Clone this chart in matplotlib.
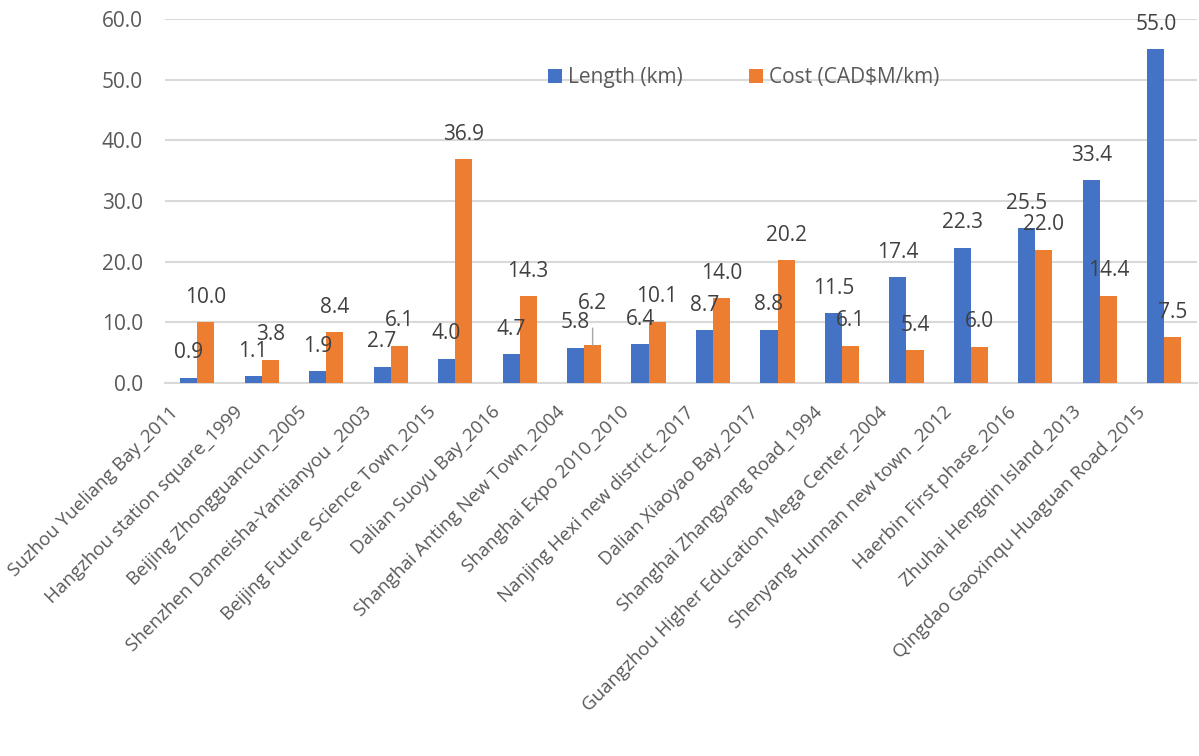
import numpy as np
import matplotlib.pyplot as plt
from matplotlib.transforms import ScaledTranslation

plt.rcParams['font.family'] = ['Open Sans', 'DejaVu Sans']

projects = [
    "Suzhou Yueliang Bay_2011",
    "Hangzhou station square_1999",
    "Beijing Zhongguancun_2005",
    "Shenzhen Dameisha-Yantianyou _2003",
    "Beijing Future Science Town_2015",
    "Dalian Suoyu Bay_2016",
    "Shanghai Anting New Town_2004",
    "Shanghai Expo 2010_2010",
    "Nanjing Hexi new district_2017",
    "Dalian Xiaoyao Bay_2017",
    "Shanghai Zhangyang Road_1994",
    "Guangzhou Higher Education Mega Center_2004",
    "Shenyang Hunnan new town _2012",
    "Haerbin First phase_2016",
    "Zhuhai Hengqin Island_2013",
    "Qingdao Gaoxinqu Huaguan Road_2015",
]
length_km = [0.9, 1.1, 1.9, 2.7, 4.0, 4.7, 5.8, 6.4, 8.7, 8.8, 11.5, 17.4, 22.3, 25.5, 33.4, 55.0]
cost_per_km = [10.0, 3.8, 8.4, 6.1, 36.9, 14.3, 6.2, 10.1, 14.0, 20.2, 6.1, 5.4, 6.0, 22.0, 14.4, 7.5]

blue = '#4472C4'
orange = '#ED7D31'
label_color = '#404040'
tick_color = '#595959'
grid_color = '#D9D9D9'
fs = 15

fig = plt.figure(figsize=(11.99, 7.56), dpi=100)
ax = fig.add_axes([0.1376, 0.4934, 0.8604, 0.4815])

x = np.arange(len(projects))
w = 0.265
b1 = ax.bar(x - w / 2, length_km, w, color=blue, label='Length (km)', zorder=3)
b2 = ax.bar(x + w / 2, cost_per_km, w, color=orange, label='Cost (CAD$M/km)', zorder=3)

# value labels above each bar
for bars, vals in ((b1, length_km), (b2, cost_per_km)):
    for i, (rect, v) in enumerate(zip(bars, vals)):
        cx = rect.get_x() + rect.get_width() / 2
        if bars is b2 and i == 6:
            # this one sits higher, with a leader line down to its bar
            ax.annotate(f'{v:.1f}', (cx, v), xytext=(0, 30), textcoords='offset points',
                        ha='center', va='center', fontsize=fs, color=label_color,
                        arrowprops=dict(arrowstyle='-', color='#A6A6A6', lw=1,
                                        shrinkA=8, shrinkB=0))
        else:
            ax.annotate(f'{v:.1f}', (cx, v), xytext=(0, 18), textcoords='offset points',
                        ha='center', va='center', fontsize=fs, color=label_color)

ax.set_ylim(0, 60)
ax.set_xlim(-0.5, len(projects) - 0.5)
ax.set_yticks(np.arange(0, 61, 10))
ax.set_yticklabels([f'{t:.1f}' for t in np.arange(0, 61, 10)])
ax.set_xticks(x)
ax.set_xticklabels(projects, rotation=45, ha='right', rotation_mode='anchor', va='center')
ax.tick_params(axis='both', length=0, labelsize=fs, colors=tick_color)
ax.tick_params(axis='x', pad=19, labelsize=13.5)
ax.tick_params(axis='y', pad=16)

shift = ScaledTranslation(-22 / 100, 0, fig.dpi_scale_trans)
for lbl in ax.get_xticklabels():
    lbl.set_transform(lbl.get_transform() + shift)

ax.yaxis.grid(True, color=grid_color, lw=1.5, zorder=0)
for s in ('top', 'right', 'left'):
    ax.spines[s].set_visible(False)
ax.spines['bottom'].set_color(grid_color)
ax.spines['bottom'].set_linewidth(1.5)

ax.legend(loc='center', bbox_to_anchor=(0.561, 0.838), ncol=2, frameon=False,
          fontsize=fs, labelcolor=tick_color, handlelength=0.65, handleheight=0.65,
          handletextpad=0.3, columnspacing=3.2)

fig.savefig('out.png', dpi=100)
